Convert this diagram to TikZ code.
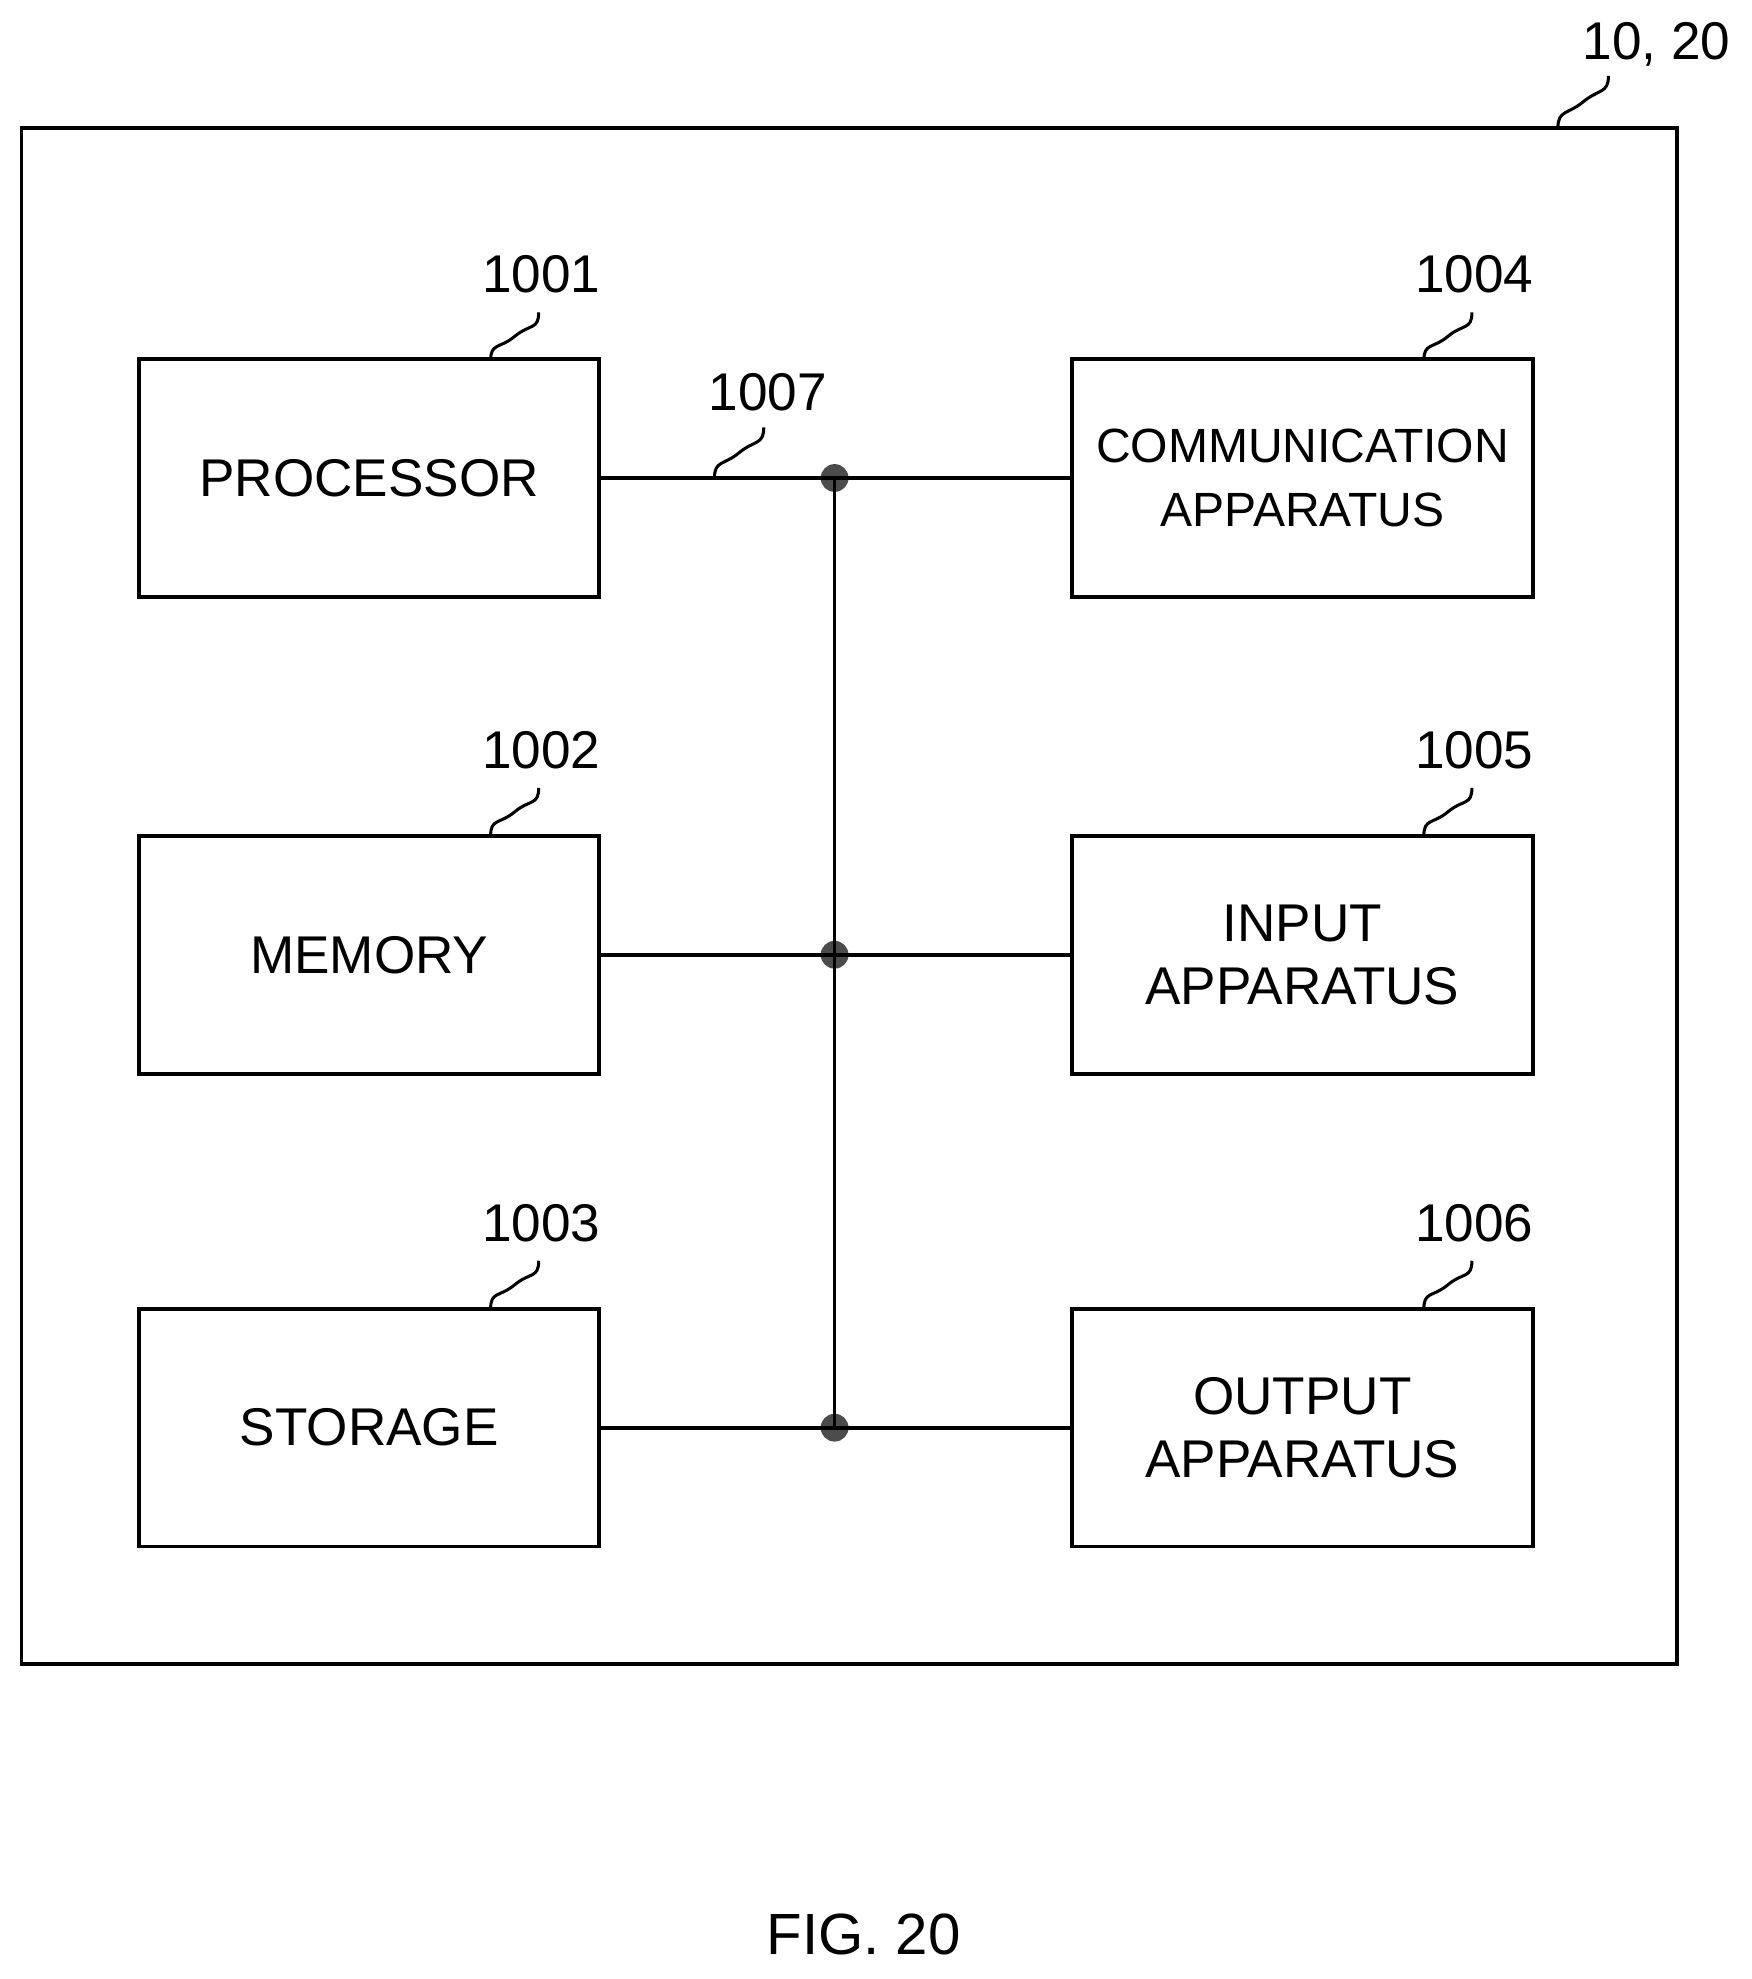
\documentclass[tikz,border=0pt]{standalone}
\usepackage{fontspec}
\setmainfont{Liberation Sans}
\tikzset{
  unit/.style = {draw, line width = 1.5pt, minimum width = 182pt, text width = 178pt, inner xsep = 2pt, minimum height = 94pt, align = center, font = \fontsize{21}{25}\selectfont},
  refnum/.style = {font = \fontsize{21}{25}\selectfont},
  bus/.style = {line width = 1.5pt},
  junction/.style = {circle, fill = black!70, inner sep = 0pt, minimum size = 11pt},
  leader/.style = {line width = 1.2pt}
}
\newcommand{\leaderline}[2]{\draw[leader] (#1) .. controls +(0,-14) and +(-12,10) .. ($(#1)!0.5!(#2)$) .. controls +(12,-10) and +(0,14) .. (#2);}
\usetikzlibrary{calc}
\begin{document}
\begin{tikzpicture}[x = 0.5pt, y = -0.5pt]
	\useasboundingbox (0, 0) rectangle (1385, 1565);
	
	%	enclosure
	\draw[line width = 1.5pt] (17, 101) rectangle (1326, 1316);
	\node[refnum] (encl) at (1310, 35) {10, 20};
	\coordinate (enclTip) at (1232, 101);
	\coordinate (enclEnd) at (1272, 60);
	\leaderline{enclTip}{enclEnd}
	
	%	units
	\node[unit] (proc) at (292, 378) {PROCESSOR};
	\node[unit] (mem)  at (292, 755) {MEMORY};
	\node[unit] (stor) at (292, 1129) {STORAGE};
	\node[unit, font = \fontsize{19}{25}\selectfont] (comm) at (1030, 378) {COMMUNICATION\\APPARATUS};
	\node[unit] (inp)  at (1030, 755) {INPUT\\APPARATUS};
	\node[unit] (outp) at (1030, 1129) {OUTPUT\\APPARATUS};
	
	%	reference numbers
	\foreach \u/\n/\x/\y in {proc/1001/292/285, mem/1002/292/661, stor/1003/292/1035, comm/1004/1030/285, inp/1005/1030/661, outp/1006/1030/1035}{
		\node[refnum] (num\n) at (\x + 136, \y - 68) {\n};
		\coordinate (tip\n) at (\x + 96, \y);
		\coordinate (end\n) at (\x + 134, \y - 38);
		\leaderline{tip\n}{end\n}
	}
	
	%	bus
	\node[junction] (j1) at (660, 378) {};
	\node[junction] (j2) at (660, 755) {};
	\node[junction] (j3) at (660, 1129) {};
	\draw[bus] (proc.east) -- (comm.west);
	\draw[bus] (mem.east) -- (inp.west);
	\draw[bus] (stor.east) -- (outp.west);
	\draw[bus] (j1.center) -- (j3.center);
	\node[refnum] (busnum) at (607, 310) {1007};
	\coordinate (busTip) at (565, 378);
	\coordinate (busEnd) at (604, 338);
	\leaderline{busTip}{busEnd}
	
	%	caption
	\node[font = \fontsize{23}{28}\selectfont] (cap) at (683, 1530) {FIG. 20};
\end{tikzpicture}
\end{document}
